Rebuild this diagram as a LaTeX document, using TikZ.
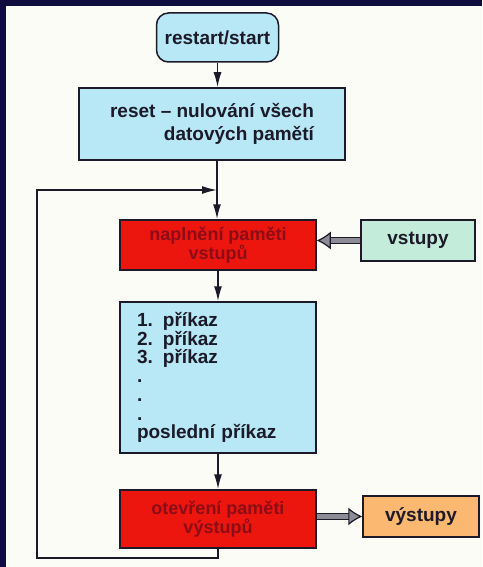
\documentclass[tikz,border=0pt]{standalone}
\usepackage{fontspec}
\setmainfont{Liberation Sans}
\usetikzlibrary{arrows.meta}

\definecolor{navy}{RGB}{14,14,62}
\definecolor{paper}{RGB}{252,252,246}
\definecolor{lightblue}{RGB}{184,232,246}
\definecolor{boxred}{RGB}{236,22,14}
\definecolor{darkred}{RGB}{140,12,24}
\definecolor{mint}{RGB}{196,236,218}
\definecolor{peach}{RGB}{250,184,112}
\definecolor{ink}{RGB}{28,26,40}
\definecolor{arrowgray}{RGB}{140,140,150}

\begin{document}
\begin{tikzpicture}[x=1pt,y=-1pt,
	box/.style={draw=ink,line width=1.5pt,text=ink,inner sep=0pt,
		font=\fontsize{19}{23}\selectfont\bfseries},
	redbox/.style={box,fill=boxred,text=darkred,minimum width=196,
		font=\fontsize{18}{17}\selectfont\bfseries,align=center},
	wire/.style={draw=ink,line width=1.6pt},
	flow/.style={wire,-{Latex[length=15pt,width=8pt]}},
	io/.style={draw=ink,line width=1.2pt,double=arrowgray,double distance=5pt,
		-{Latex[length=14pt,width=18pt,fill=arrowgray]}}]
	\fill[paper] (0,0) rectangle (482,567);
	\fill[navy] (0,0) rectangle (6,567);
	\fill[navy] (0,0) rectangle (482,6);

	\node[box,fill=lightblue,rounded corners=12pt,minimum width=122,minimum height=49] (start) at (217.5,37.5) {restart/start};
	\node[box,fill=lightblue,minimum width=266,minimum height=72,align=right] (reset) at (212,124) {reset – nulování všech\\datových pamětí};
	\node[redbox,minimum height=50] (fill) at (218,245) {naplnění paměti\\vstupů};
	\node[box,fill=mint,minimum width=114,minimum height=41] (inputs) at (418,240.5) {vstupy};
	\node[box,fill=lightblue,text width=162pt,inner xsep=17pt,minimum height=151,align=left,
		font=\fontsize{19}{18.7}\selectfont\bfseries] (cmds) at (218,377.5)
		{\makebox[26pt][l]{1.}příkaz\\\makebox[26pt][l]{2.}příkaz\\\makebox[26pt][l]{3.}příkaz\\.\\.\\.\\poslední příkaz};
	\node[redbox,minimum height=58] (open) at (218,519) {otevření paměti\\výstupů};
	\node[box,fill=peach,minimum width=116,minimum height=41] (outputs) at (421,516.5) {výstupy};

	\coordinate (join) at (217,190);
	\coordinate (corner) at (37,558);

	\draw[flow] (start) -- (start |- reset.north);
	\draw[wire] (join |- reset.south) -- (join);
	\draw[flow] (join) -- (join |- fill.north);
	\draw[flow] (fill) -- (cmds);
	\draw[flow] (cmds) -- (open);
	\draw[flow] (open) |- (corner) |- (join);
	\draw[io] (inputs.west) -- (inputs.west -| fill.east);
	\draw[io] (open.east |- outputs.west) -- (outputs.west);
\end{tikzpicture}
\end{document}
